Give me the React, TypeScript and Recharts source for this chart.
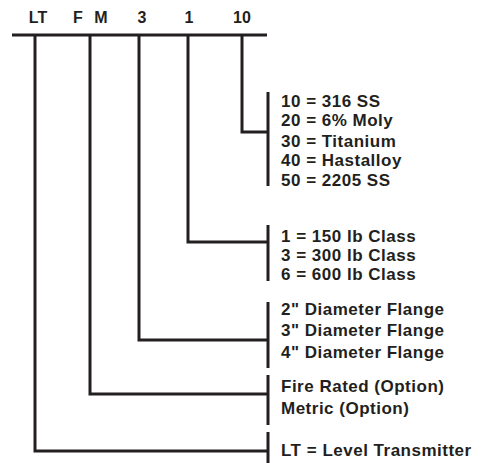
import { ComposedChart, Line, Scatter, XAxis, YAxis } from "recharts";

// model code header
const codes = ["LT", "F", "M", "3", "1", "10"];
const codeX = [38, 78, 101, 142, 189, 242];
const headerY = 17;
const ruleY = 35;
const ruleStart = 12;
const ruleEnd = 267;

// option groups, from the right-most code to the left-most
const groupStemX = [242, 188, 139, 90, 35];
const groupJoinY = [132, 242, 340, 394, 451];
const groupTop = [92, 225, 302, 375, 432];
const groupBottom = [186, 281, 368, 425, 463];
const bracketX = 268;
const textX = 281;
const groupItems = [
  ["10 = 316 SS", "20 = 6% Moly", "30 = Titanium", "40 = Hastalloy", "50 = 2205 SS"],
  ["1 = 150 lb Class", "3 = 300 lb Class", "6 = 600 lb Class"],
  ['2" Diameter Flange', '3" Diameter Flange', '4" Diameter Flange'],
  ["Fire Rated (Option)", "Metric (Option)"],
  ["LT = Level Transmitter"],
];
const groupItemY = [
  [101, 120, 141, 160, 180],
  [236, 255, 274],
  [309, 330, 352],
  [386, 408],
  [450],
];

const INK = "#231f20";
const FONT = "'Liberation Sans', Arial, Helvetica, sans-serif";

type Pt = { x: number; y: number; label?: string };

const headerPts: Pt[] = codes.map((c, i) => ({ x: codeX[i], y: headerY, label: c }));
const itemPts: Pt[] = groupItems.flatMap((items, g) =>
  items.map((label, i) => ({ x: textX, y: groupItemY[g][i], label }))
);

const rule: Pt[] = [
  { x: ruleStart, y: ruleY },
  { x: ruleEnd, y: ruleY },
];
const stems: Pt[][] = groupStemX.map((sx, g) => [
  { x: sx, y: ruleY },
  { x: sx, y: groupJoinY[g] },
  { x: bracketX, y: groupJoinY[g] },
]);
const brackets: Pt[][] = groupTop.map((t, g) => [
  { x: bracketX, y: t },
  { x: bracketX, y: groupBottom[g] },
]);

const headerText = (props: any) => (
  <text
    x={props.cx}
    y={props.cy}
    textAnchor="middle"
    dominantBaseline="central"
    fontFamily={FONT}
    fontWeight="bold"
    fontSize={16}
    fill={INK}
  >
    {props.payload.label}
  </text>
);

const itemText = (props: any) => (
  <text
    x={props.cx}
    y={props.cy}
    textAnchor="start"
    dominantBaseline="central"
    fontFamily={FONT}
    fontWeight="bold"
    fontSize={17}
    letterSpacing={0.5}
    fill={INK}
  >
    {props.payload.label}
  </text>
);

export default function App() {
  const lines = [rule, ...stems, ...brackets];
  return (
    <div style={{ position: "absolute", left: 0, top: 0, background: "#fff" }}>
      <ComposedChart width={484} height={463} margin={{ top: 0, right: 0, bottom: 0, left: 0 }}>
        <XAxis type="number" dataKey="x" domain={[0, 484]} hide allowDataOverflow />
        <YAxis type="number" dataKey="y" domain={[0, 463]} reversed hide allowDataOverflow />
        {lines.map((d, i) => (
          <Line
            key={i}
            data={d}
            dataKey="y"
            type="linear"
            stroke={INK}
            strokeWidth={3}
            dot={false}
            activeDot={false}
            isAnimationActive={false}
          />
        ))}
        <Scatter data={headerPts} dataKey="y" shape={headerText} isAnimationActive={false} />
        <Scatter data={itemPts} dataKey="y" shape={itemText} isAnimationActive={false} />
      </ComposedChart>
    </div>
  );
}
